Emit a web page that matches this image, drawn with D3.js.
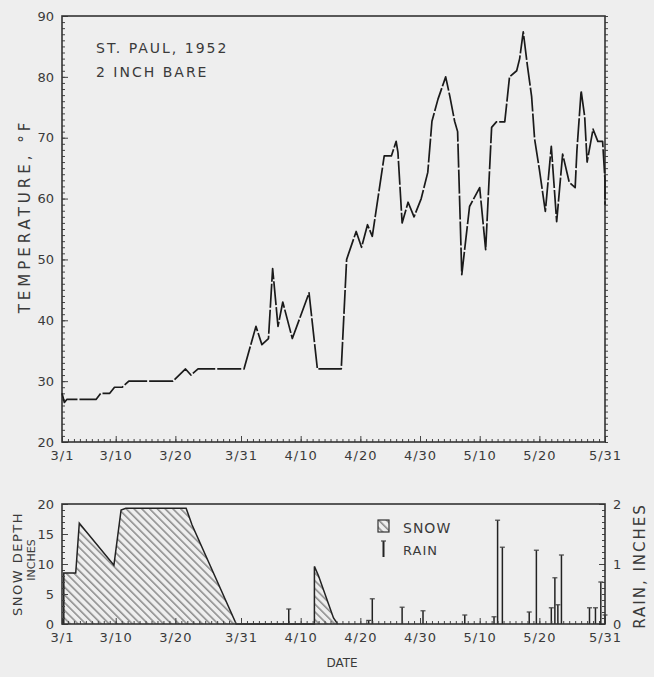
<!DOCTYPE html>
<html>
<head>
<meta charset="utf-8">
<script src="https://cdn.jsdelivr.net/npm/d3@7"></script>
<style>
    body { margin: 0; background: #eeeeee; }
    svg { display: block; font-family: "DejaVu Sans", sans-serif; }
    .lbl { fill: #3a3a3a; font-size: 13px; }
    .axis text { fill: #3a3a3a; font-size: 13px; font-family: "DejaVu Sans", sans-serif; }
    .axis.xax text { letter-spacing: 1px; }
    .axis line { stroke: #444; }
</style>
</head>
<body>
<svg id="chart" width="654" height="677"></svg>
<script>
// temperatura 2 inch bare soil, St. Paul 1952 (giorni dal 1 marzo)
const tempDay = [0, 0.4, 0.8, 5.7, 6.5, 8, 8.8, 10.1, 11.2, 18.6, 20.7, 21.6, 22.8, 30.5, 32.5, 33.5, 34.6, 35.3, 36.2, 37, 38.6, 41.4, 42.8, 46.8, 47.7, 49.3, 50.2, 51.2, 52, 54, 55.2, 56, 56.3, 57, 58, 59, 60.2, 61.3, 62, 63, 64.3, 65, 65.8, 66.3, 67, 68.3, 70, 71, 72, 72.8, 74.2, 75, 76.2, 76.7, 77.3, 78, 78.7, 79.2, 80, 81, 82, 82.9, 83.9, 85, 86, 86.3, 87, 87.6, 88, 89, 89.8, 90.6, 91, 91];
const temps = [28, 26.5, 27, 27, 28, 28, 29, 29, 30, 30, 32, 31, 32, 32, 39, 36, 37, 48.5, 39, 43, 37, 44.5, 32, 32, 50, 54.6, 52, 55.7, 53.8, 67, 67, 69.4, 67.6, 56, 59.4, 57, 60, 64.3, 72.7, 76.3, 80, 76.8, 72.7, 71, 47.5, 58.7, 61.8, 51.6, 71.7, 72.6, 72.6, 80, 81, 83, 87.4, 81.8, 76.8, 69.8, 64.8, 57.9, 68.6, 56.2, 67.3, 62.7, 61.8, 68, 77.7, 73.4, 66, 71.4, 69.4, 69.4, 63, 59];

// neve (pollici)
const snowDay = [0.3, 0.3, 2.3, 2.9, 8.7, 9.9, 10.7, 20.8, 21.8, 29.2, 42.3, 42.3, 43, 45.5, 46.2];
const snowDepth = [0, 8.5, 8.5, 16.8, 9.8, 19, 19.3, 19.3, 16.5, 0, 0, 9.6, 8, 1, 0];

// pioggia (pollici)
const rainDay = [38, 51.4, 52, 57, 60.5, 67.5, 72.4, 73, 73.8, 78.3, 79.5, 82, 82.6, 83.1, 83.7, 88.4, 89.4, 90.3, 91];
const rainAmt = [0.25, 0.06, 0.42, 0.28, 0.22, 0.15, 0.12, 1.73, 1.28, 0.2, 1.23, 0.27, 0.77, 0.32, 1.15, 0.27, 0.27, 0.7, 0.15];

// tick delle date
const tickDays = [0, 9, 19, 30, 40, 50, 60, 70, 80, 91];
const tickLabels = ["3/1", "3/10", "3/20", "3/31", "4/10", "4/20", "4/30", "5/10", "5/20", "5/31"];
const tempTicks = [20, 30, 40, 50, 60, 70, 80, 90];
const snowTicks = [0, 5, 10, 15, 20];
const rainTicks = [0, 1, 2];

const TOP = { left: 62, right: 605, top: 16, bottom: 442 };
const BOT = { left: 62, right: 605, top: 504, bottom: 624 };

const svg = d3.select("#chart");

const x = d3.scaleLinear().domain([0, 91]).range([TOP.left, TOP.right]);
const yTemp = d3.scaleLinear().domain([20, 90]).range([TOP.bottom, TOP.top]);
const ySnow = d3.scaleLinear().domain([0, 20]).range([BOT.bottom, BOT.top]);
const yRain = d3.scaleLinear().domain([0, 2]).range([BOT.bottom, BOT.top]);

// pattern tratteggio neve
const defs = svg.append("defs");
defs.append("pattern")
    .attr("id", "hatch")
    .attr("patternUnits", "userSpaceOnUse")
    .attr("width", 6)
    .attr("height", 5.5)
    .attr("patternTransform", "rotate(45)")
    .append("line")
    .attr("x1", 0).attr("y1", 1)
    .attr("x2", 6).attr("y2", 1)
    .attr("stroke", "#555")
    .attr("stroke-width", 1);

/**
 * Asse x con tick minori giornalieri e label
 */
function drawXAxis(bottom) {
    svg.append("g")
        .attr("class", "axis")
        .attr("transform", `translate(0, ${bottom})`)
        .call(d3.axisBottom(x).tickValues(d3.range(0, 92)).tickSize(-3).tickFormat(""))
        .call(g => g.select(".domain").remove());
    svg.append("g")
        .attr("class", "axis xax")
        .attr("transform", `translate(0, ${bottom})`)
        .call(d3.axisBottom(x).tickValues(tickDays).tickSize(-6).tickPadding(9)
            .tickFormat((d, i) => tickLabels[i]))
        .call(g => g.select(".domain").remove());
}

/**
 * Asse y con tick minori
 */
function drawYAxis(scale, xPos, minor, major, side) {
    const axisFn = side === "left" ? d3.axisLeft : d3.axisRight;
    svg.append("g")
        .attr("class", "axis")
        .attr("transform", `translate(${xPos}, 0)`)
        .call(axisFn(scale).tickValues(minor).tickSize(-3).tickFormat(""))
        .call(g => g.select(".domain").remove());
    svg.append("g")
        .attr("class", "axis")
        .attr("transform", `translate(${xPos}, 0)`)
        .call(axisFn(scale).tickValues(major).tickSize(-6).tickPadding(8).tickFormat(d3.format("d")))
        .call(g => g.select(".domain").remove());
}

// ---- grafico temperatura ----
drawXAxis(TOP.bottom);
drawYAxis(yTemp, TOP.left, d3.range(20, 91), tempTicks, "left");
svg.append("g")
    .attr("class", "axis")
    .attr("transform", `translate(${TOP.right}, 0)`)
    .call(d3.axisLeft(yTemp).tickValues(d3.range(20, 91)).tickSize(-3).tickFormat(""))
    .call(g => g.select(".domain").remove());

svg.append("rect")
    .attr("x", TOP.left).attr("y", TOP.top)
    .attr("width", TOP.right - TOP.left).attr("height", TOP.bottom - TOP.top)
    .attr("fill", "none").attr("stroke", "#333").attr("stroke-width", 1.6);

const tempLine = d3.line()
    .x((d, i) => x(tempDay[i]))
    .y(d => yTemp(d));

svg.append("path")
    .datum(temps)
    .attr("d", tempLine)
    .attr("fill", "none")
    .attr("stroke", "#1a1a1a")
    .attr("stroke-width", 1.7)
    .attr("stroke-dasharray", "24,2")
    .attr("stroke-linejoin", "round");

svg.append("text").attr("class", "lbl").attr("x", 96).attr("y", 53)
    .style("font-size", "14px").style("letter-spacing", "2px")
    .text("ST. PAUL,  1952");
svg.append("text").attr("class", "lbl").attr("x", 96).attr("y", 77)
    .style("font-size", "14px").style("letter-spacing", "2px")
    .text("2  INCH  BARE");

svg.append("text")
    .attr("class", "lbl")
    .attr("transform", `translate(30, 216) rotate(-90)`)
    .attr("text-anchor", "middle")
    .style("font-size", "15px")
    .style("letter-spacing", "4px")
    .text("TEMPERATURE, °F");

// ---- grafico neve / pioggia ----
const snowArea = d3.area()
    .x((d, i) => x(snowDay[i]))
    .y0(ySnow(0))
    .y1(d => ySnow(d));

svg.append("path")
    .datum(snowDepth)
    .attr("d", snowArea)
    .attr("fill", "url(#hatch)")
    .attr("stroke", "none");

svg.append("path")
    .datum(snowDepth)
    .attr("d", d3.line().x((d, i) => x(snowDay[i])).y(d => ySnow(d)))
    .attr("fill", "none")
    .attr("stroke", "#222")
    .attr("stroke-width", 1.5);

// barre pioggia con cappello
const rain = svg.append("g").selectAll("g")
    .data(rainAmt)
    .join("g");
rain.append("line")
    .attr("x1", (d, i) => x(rainDay[i])).attr("x2", (d, i) => x(rainDay[i]))
    .attr("y1", yRain(0)).attr("y2", d => yRain(d))
    .attr("stroke", "#222").attr("stroke-width", 1.5);
rain.append("line")
    .attr("x1", (d, i) => x(rainDay[i]) - 2.5).attr("x2", (d, i) => x(rainDay[i]) + 2.5)
    .attr("y1", d => yRain(d)).attr("y2", d => yRain(d))
    .attr("stroke", "#444").attr("stroke-width", 1.2);

drawXAxis(BOT.bottom);
drawYAxis(ySnow, BOT.left, d3.range(0, 21), snowTicks, "left");
drawYAxis(yRain, BOT.right, d3.range(0, 2.01, 0.1), rainTicks, "right");

svg.append("rect")
    .attr("x", BOT.left).attr("y", BOT.top)
    .attr("width", BOT.right - BOT.left).attr("height", BOT.bottom - BOT.top)
    .attr("fill", "none").attr("stroke", "#333").attr("stroke-width", 1.6);

// legenda
svg.append("rect")
    .attr("x", 378).attr("y", 520).attr("width", 11).attr("height", 12)
    .attr("fill", "url(#hatch)").attr("stroke", "#333").attr("stroke-width", 1.2);
svg.append("text").attr("class", "lbl").attr("x", 403).attr("y", 533)
    .style("font-size", "14px").style("letter-spacing", "1px").text("SNOW");
svg.append("line")
    .attr("x1", 383.5).attr("x2", 383.5).attr("y1", 541).attr("y2", 557)
    .attr("stroke", "#222").attr("stroke-width", 2);
svg.append("line")
    .attr("x1", 381).attr("x2", 386).attr("y1", 541).attr("y2", 541)
    .attr("stroke", "#444").attr("stroke-width", 1.2);
svg.append("text").attr("class", "lbl").attr("x", 403).attr("y", 555)
    .style("font-size", "13px").style("letter-spacing", "1px").text("RAIN");

svg.append("text")
    .attr("class", "lbl")
    .attr("transform", `translate(22, 564) rotate(-90)`)
    .attr("text-anchor", "middle")
    .style("letter-spacing", "1.5px")
    .text("SNOW  DEPTH");
svg.append("text")
    .attr("class", "lbl")
    .attr("transform", `translate(35, 560) rotate(-90)`)
    .attr("text-anchor", "middle")
    .style("font-size", "11px")
    .text("INCHES");
svg.append("text")
    .attr("class", "lbl")
    .attr("transform", `translate(645, 566) rotate(-90)`)
    .attr("text-anchor", "middle")
    .style("font-size", "15px")
    .style("letter-spacing", "2px")
    .text("RAIN, INCHES");

svg.append("text")
    .attr("class", "lbl")
    .attr("x", 342).attr("y", 667)
    .attr("text-anchor", "middle")
    .style("font-size", "12px")
    .text("DATE");
</script>
</body>
</html>
